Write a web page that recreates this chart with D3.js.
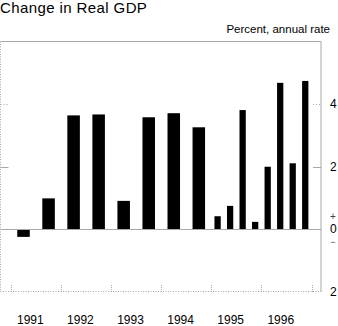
<!DOCTYPE html>
<html>
<head>
<meta charset="utf-8">
<script src="https://cdn.jsdelivr.net/npm/d3@7"></script>
<style>
  body { margin: 0; background: #fff; }
  svg { display: block; font-family: "Liberation Sans", Arial, Helvetica, sans-serif; }
</style>
</head>
<body>
<div id="chart"></div>
<script>
// semi-annual changes, 1991-1994
const halfPeriods = ["1991 H1", "1991 H2", "1992 H1", "1992 H2", "1993 H1", "1993 H2", "1994 H1", "1994 H2"];
const halfValues = [-0.24, 0.99, 3.64, 3.67, 0.91, 3.58, 3.71, 3.26];

// quarterly changes, 1995-1996
const quarterPeriods = ["1995 Q1", "1995 Q2", "1995 Q3", "1995 Q4", "1996 Q1", "1996 Q2", "1996 Q3", "1996 Q4"];
const quarterValues = [0.42, 0.75, 3.81, 0.24, 2.0, 4.68, 2.11, 4.74];

const years = [1991, 1992, 1993, 1994, 1995, 1996];
const yTicks = [-2, 0, 2, 4];

const width = 338, height = 326;
const frame = { left: 0.5, right: 321, top: 41.5, bottom: 292 };

const svg = d3.select('#chart').append('svg')
  .attr('width', width)
  .attr('height', height);

const x = d3.scaleLinear().domain([1991, 1997]).range([11, 311.5]);
const y = d3.scaleLinear().domain([-2, 6]).range([frame.bottom, frame.top]);

// turn "1992 H2" / "1995 Q3" into the period's start and length in years
function periodSpan(p) {
  const [yr, part] = p.split(' ');
  const n = +part.slice(1) - 1;
  const len = part[0] === 'H' ? 0.5 : 0.25;
  return { start: +yr + n * len, len };
}

const bars = halfPeriods.map((p, i) => ({ ...periodSpan(p), value: halfValues[i] }))
  .concat(quarterPeriods.map((p, i) => ({ ...periodSpan(p), value: quarterValues[i] })));

const grey = '#a8a8a8';

// frame
svg.append('line').attr('x1', frame.left).attr('x2', frame.right).attr('y1', frame.top).attr('y2', frame.top)
  .attr('stroke', grey);
svg.append('line').attr('x1', frame.right).attr('x2', frame.right).attr('y1', frame.top).attr('y2', frame.bottom)
  .attr('stroke', grey);
svg.append('line').attr('x1', frame.left).attr('x2', frame.left).attr('y1', frame.top).attr('y2', frame.bottom)
  .attr('stroke', grey).attr('stroke-dasharray', '1,1.5');
svg.append('line').attr('x1', frame.left).attr('x2', frame.right).attr('y1', frame.bottom - 0.5).attr('y2', frame.bottom - 0.5)
  .attr('stroke', grey).attr('stroke-dasharray', '1,1.5');

// y ticks on both sides
[2, 4].forEach(v => {
  const dash = v === 4 ? '1,2' : null;
  svg.append('line').attr('x1', frame.left).attr('x2', frame.left + 8)
    .attr('y1', Math.round(y(v)) + 0.5).attr('y2', Math.round(y(v)) + 0.5)
    .attr('stroke', grey).attr('stroke-dasharray', dash);
  svg.append('line').attr('x1', frame.right - 8).attr('x2', frame.right)
    .attr('y1', Math.round(y(v)) + 0.5).attr('y2', Math.round(y(v)) + 0.5)
    .attr('stroke', grey).attr('stroke-dasharray', dash);
});

// year ticks along the bottom
svg.selectAll('.xtick')
  .data(d3.range(1991, 1998))
  .enter().append('line')
  .attr('class', 'xtick')
  .attr('x1', d => Math.round(x(d)) + 0.5)
  .attr('x2', d => Math.round(x(d)) + 0.5)
  .attr('y1', frame.bottom - 7)
  .attr('y2', frame.bottom)
  .attr('stroke', grey)
  .attr('stroke-dasharray', '1,1');

// bars: half the width of their period, centred in it
svg.selectAll('.bar')
  .data(bars)
  .enter().append('rect')
  .attr('class', 'bar')
  .attr('x', d => x(d.start + d.len / 4))
  .attr('width', d => x(d.start + d.len * 3 / 4) - x(d.start + d.len / 4))
  .attr('y', d => y(Math.max(0, d.value)))
  .attr('height', d => Math.abs(y(d.value) - y(0)))
  .attr('fill', '#000');

// zero line
svg.append('line').attr('x1', frame.left).attr('x2', frame.right)
  .attr('y1', Math.round(y(0)) + 0.5).attr('y2', Math.round(y(0)) + 0.5)
  .attr('stroke', grey);

// year labels
svg.selectAll('.year')
  .data(years)
  .enter().append('text')
  .attr('class', 'year')
  .attr('x', d => x(d) + 6)
  .attr('y', 324)
  .style('font-size', '12px')
  .text(d => d);

// right-hand value labels
svg.selectAll('.ylab')
  .data(yTicks)
  .enter().append('text')
  .attr('class', 'ylab')
  .attr('x', 330)
  .attr('y', d => y(d) - (d === 0 ? 1 : 0))
  .attr('dy', '0.36em')
  .style('font-size', '12px')
  .text(d => Math.abs(d));

svg.append('text').attr('x', 333).attr('y', y(0) - 13).attr('dy', '0.36em')
  .attr('text-anchor', 'middle').style('font-size', '10px').style('fill', '#444').text('+');
svg.append('text').attr('x', 333).attr('y', y(0) + 15.5)
  .attr('text-anchor', 'middle').style('font-size', '9px').style('fill', '#444').text('\u2212');

// titles
svg.append('text').attr('x', 0).attr('y', 13)
  .style('font-size', '15px').style('letter-spacing', '0.4px')
  .text('Change in Real GDP');
svg.append('text').attr('x', 330).attr('y', 33)
  .attr('text-anchor', 'end').style('font-size', '11.5px')
  .text('Percent, annual rate');
</script>
</body>
</html>
